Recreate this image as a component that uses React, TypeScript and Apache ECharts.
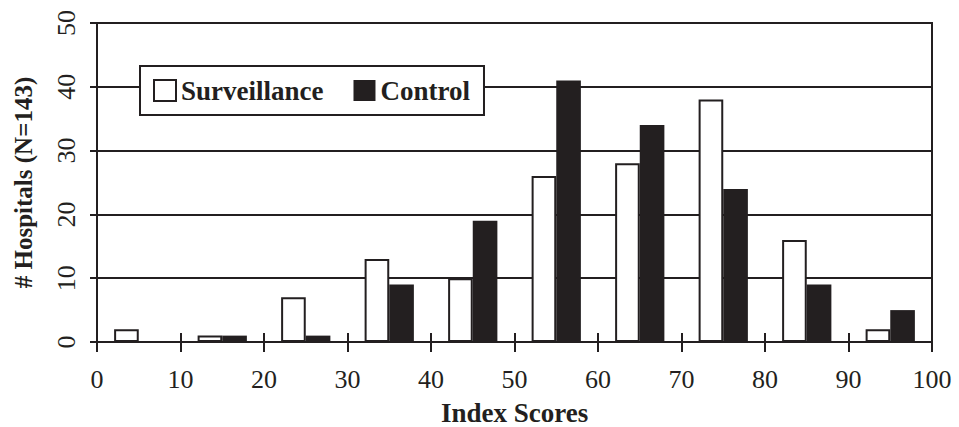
import React, { useEffect, useRef } from "react";
import * as echarts from "echarts";

const categories = ["0-10", "10-20", "20-30", "30-40", "40-50", "50-60", "60-70", "70-80", "80-90", "90-100"];
const surveillance = [2, 1, 7, 13, 10, 26, 28, 38, 16, 2];
const control = [0, 1, 1, 9, 19, 41, 34, 24, 9, 5];
const xTickMin = 0;
const xTickMax = 100;
const xTickStep = 10;
const yMin = 0;
const yMax = 50;
const yStep = 10;

const INK = "#231f20";
const FONT = "'Liberation Serif', 'Times New Roman', serif";

export default function App() {
  const ref = useRef<HTMLDivElement>(null);
  useEffect(() => {
    if (!ref.current) return;
    const chart = echarts.init(ref.current, undefined, { renderer: "svg" });
    chart.setOption({
      animation: false,
      backgroundColor: "#ffffff",
      textStyle: { fontFamily: FONT, color: INK },
      grid: {
        left: 97,
        right: 27,
        top: 23,
        bottom: 85,
        show: true,
        borderColor: INK,
        borderWidth: 2,
        backgroundColor: "transparent",
        containLabel: false,
        outerBoundsMode: "none",
      },
      legend: {
        left: 140,
        top: 66,
        orient: "horizontal",
        itemWidth: 22,
        itemHeight: 21,
        itemGap: 30,
        padding: [11, 14, 11, 13],
        backgroundColor: "#ffffff",
        borderColor: INK,
        borderWidth: 2,
        borderRadius: 0,
        icon: "rect",
        textStyle: { fontFamily: FONT, fontSize: 27, fontWeight: "bold", color: INK },
        data: ["Surveillance", "Control"],
      },
      xAxis: [
        {
          type: "category",
          data: categories,
          boundaryGap: true,
          axisLine: { show: false },
          axisTick: { show: true, inside: true, length: 9, alignWithLabel: false, lineStyle: { color: INK, width: 2 } },
          axisLabel: { show: false },
          splitLine: { show: false },
        },
        {
          type: "value",
          position: "bottom",
          min: xTickMin,
          max: xTickMax,
          interval: xTickStep,
          name: "Index Scores",
          nameLocation: "middle",
          nameGap: 57,
          nameTextStyle: { fontFamily: FONT, fontSize: 27, fontWeight: "bold", color: INK },
          axisLine: { show: true, onZero: false, lineStyle: { color: INK, width: 2 } },
          axisTick: { show: true, inside: false, length: 10, lineStyle: { color: INK, width: 2 } },
          axisLabel: { fontFamily: FONT, fontSize: 26, color: INK, margin: 24 },
          splitLine: { show: false },
        },
      ],
      yAxis: {
        type: "value",
        min: yMin,
        max: yMax,
        interval: yStep,
        name: "# Hospitals (N=143)",
        nameLocation: "middle",
        nameGap: 61,
        nameRotate: 90,
        nameTextStyle: { fontFamily: FONT, fontSize: 25, fontWeight: "bold", color: INK },
        axisLine: { show: true, lineStyle: { color: INK, width: 2 } },
        axisTick: { show: true, inside: false, length: 7, lineStyle: { color: INK, width: 2 } },
        axisLabel: { fontFamily: FONT, fontSize: 26, color: INK, rotate: 90, margin: 18 },
        splitLine: { show: true, lineStyle: { color: INK, width: 2 } },
      },
      series: [
        {
          name: "Surveillance",
          type: "bar",
          xAxisIndex: 0,
          data: surveillance,
          barGap: "0%",
          barCategoryGap: "41%",
          itemStyle: { color: "#ffffff", borderColor: INK, borderWidth: 2 },
        },
        {
          name: "Control",
          type: "bar",
          xAxisIndex: 0,
          data: control,
          barGap: "0%",
          barCategoryGap: "41%",
          itemStyle: { color: INK, borderColor: INK, borderWidth: 0 },
        },
      ],
    });
    return () => chart.dispose();
  }, []);
  return (
    <div
      ref={ref}
      style={{ position: "absolute", left: 0, top: 0, width: 959, height: 427 }}
    />
  );
}
